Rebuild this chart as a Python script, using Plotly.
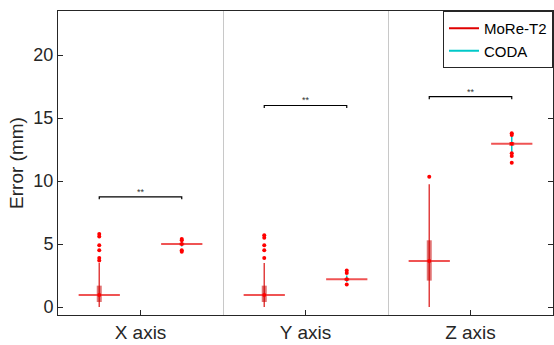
import plotly.graph_objects as go

categories = ["X axis", "Y axis", "Z axis"]
series = ["MoRe-T2", "CODA"]

# box statistics per category (MoRe-T2, CODA)
more_median = [0.95, 0.95, 3.65]
more_q1 = [0.4, 0.4, 2.1]
more_q3 = [1.7, 1.7, 5.3]
more_wlo = [0.0, 0.0, 0.0]
more_whi = [3.5, 3.5, 9.75]
more_out = [[5.8, 5.6, 4.9, 4.5, 3.9, 3.7], [5.7, 5.5, 4.9, 4.5, 3.9], [10.35]]

coda_median = [5.0, 2.2, 12.97]
coda_q1 = [4.9, 2.1, 12.8]
coda_q3 = [5.1, 2.3, 13.1]
coda_wlo = [4.8, 2.0, 12.3]
coda_whi = [5.2, 2.5, 13.6]
coda_out = [[5.4, 5.3, 4.5, 4.4], [2.9, 2.7, 1.8], [13.8, 13.65, 12.2, 12.0, 11.45]]

sig_y = [8.75, 16.0, 16.7]
sig_label = ["**", "**", "**"]

yticks = [0, 5, 10, 15, 20]

offset = 0.25
half = 0.125
red = "#ff0000"
fig = go.Figure()

groups = [
    (-offset, more_median, more_q1, more_q3, more_wlo, more_whi, more_out, "rgba(215,0,0,0.75)", "#e00000", "MoRe-T2"),
    (offset, coda_median, coda_q1, coda_q3, coda_wlo, coda_whi, coda_out, "#00c8c8", "#00c8c8", "CODA"),
]
for gi, (off, med, q1, q3, wlo, whi, out, wcol, lcol, name) in enumerate(groups):
    # legend entry
    fig.add_trace(go.Scatter(x=[None], y=[None], mode="lines",
                             line=dict(color=lcol, width=2), name=name,
                             legendgroup=name, showlegend=True, hoverinfo="skip"))
    for i in range(len(categories)):
        xc = i + 1 + off
        # whisker
        fig.add_trace(go.Scatter(x=[xc, xc], y=[wlo[i], whi[i]], mode="lines",
                                 line=dict(color=wcol, width=1.5),
                                 legendgroup=name, showlegend=False, hoverinfo="skip"))
        # box
        fig.add_trace(go.Scatter(x=[xc, xc], y=[q1[i], q3[i]], mode="lines",
                                 line=dict(color="rgba(200,0,0,0.55)", width=5),
                                 showlegend=False, hoverinfo="skip"))
        # median
        fig.add_trace(go.Scatter(x=[xc - half, xc + half], y=[med[i], med[i]], mode="lines",
                                 line=dict(color="rgba(235,40,40,0.8)", width=2),
                                 showlegend=False, hoverinfo="skip"))
        fig.add_trace(go.Scatter(x=[xc], y=[med[i]], mode="markers",
                                 marker=dict(color=red, size=4, symbol="circle"),
                                 showlegend=False, hoverinfo="skip"))
        # outliers
        fig.add_trace(go.Scatter(x=[xc] * len(out[i]), y=out[i], mode="markers",
                                 marker=dict(color=red, size=4, symbol="circle"),
                                 showlegend=False, hoverinfo="skip"))

# significance brackets
for i in range(len(categories)):
    x0 = i + 1 - offset
    x1 = i + 1 + offset
    y = sig_y[i]
    fig.add_trace(go.Scatter(x=[x0, x0, x1, x1], y=[y - 0.2, y, y, y - 0.2], mode="lines",
                             line=dict(color="black", width=1.2),
                             showlegend=False, hoverinfo="skip"))
    fig.add_trace(go.Scatter(x=[i + 1], y=[y + 0.35], mode="text", text=[sig_label[i]],
                             textfont=dict(size=9, color="#333333", family="Liberation Sans"),
                             showlegend=False, hoverinfo="skip"))

axis_col = "#262626"
fig.update_layout(
    width=554, height=345,
    margin=dict(l=58, r=1, t=11, b=30, autoexpand=False),
    plot_bgcolor="white", paper_bgcolor="white",
    font=dict(family="Liberation Sans, Arial", size=19, color=axis_col),
    legend=dict(x=1, y=1, xanchor="right", yanchor="top",
                bordercolor=axis_col, borderwidth=1, bgcolor="white",
                font=dict(size=15, color="black"),
                tracegroupgap=0, itemwidth=30),
    showlegend=True,
)
fig.update_xaxes(range=[0.5, 3.5], tickvals=[1, 2, 3], ticktext=categories,
                 showline=True, linecolor=axis_col, linewidth=1, mirror=True,
                 ticks="inside", ticklen=5, tickcolor=axis_col,
                 showgrid=False, zeroline=False, automargin=False,
                 minor=dict(tickvals=[1.5, 2.5], showgrid=True, gridcolor="#c8c8c8",
                            gridwidth=1, ticks=""))
fig.update_yaxes(range=[-0.63, 23.5], tickvals=yticks,
                 showline=True, linecolor=axis_col, linewidth=1, mirror="ticks",
                 ticks="inside", ticklen=5, tickcolor=axis_col,
                 showgrid=False, zeroline=False, automargin=False,
                 tickfont=dict(size=18),
                 title=dict(text="Error (mm)", font=dict(size=19), standoff=4))

fig.write_html("out.html", config={"displayModeBar": False},
               post_script="document.body.style.margin='0';document.body.style.overflow='hidden';")
